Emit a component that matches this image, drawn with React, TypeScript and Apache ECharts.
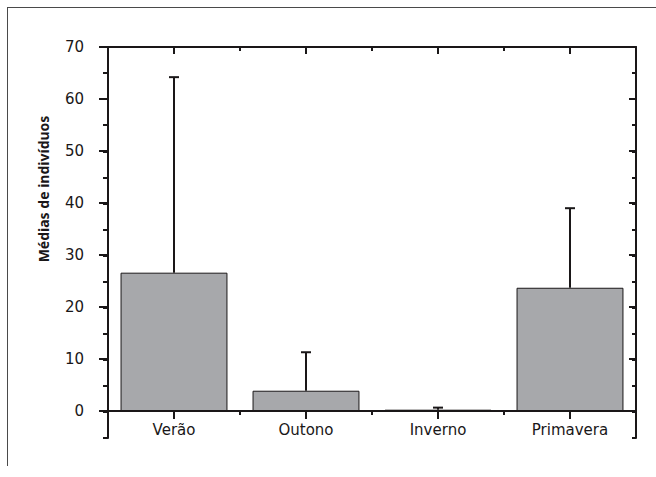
import React, { useEffect, useRef } from "react";
import * as echarts from "echarts";

const categories = ["Verão", "Outono", "Inverno", "Primavera"];
const means = [26.6, 3.9, 0.25, 23.7];
const errorTops = [64.2, 11.3, 0.65, 39.0];
const yAxisTitle = "Médias de indivíduos";

const INK = "#1a1718";
const FONT = '"Noto Sans", "DejaVu Sans", sans-serif';
const TICK_FONT = '"DejaVu Sans", sans-serif';

export default function App() {
  const ref = useRef<HTMLDivElement>(null);
  useEffect(() => {
    if (!ref.current) return;
    const chart = echarts.init(ref.current, null, { renderer: "svg" });
    const line = { lineStyle: { color: INK, width: 2 } };
    const gridFull = { left: 108, right: 20, top: 47, bottom: 39 };
    const gridZero = { left: 108, right: 20, top: 47, bottom: 66 };
    const errData = categories.map((_, i) => [i, means[i], errorTops[i]]);
    chart.setOption({
      animation: false,
      backgroundColor: "#ffffff",
      textStyle: { fontFamily: FONT },
      grid: [gridFull, gridZero, gridZero],
      xAxis: [
        {
          gridIndex: 0, type: "category", position: "top", data: categories,
          axisLine: { show: true, onZero: false, ...line },
          axisTick: { show: true, inside: true, length: 4, ...line },
          axisLabel: { show: false }, splitLine: { show: false },
        },
        {
          gridIndex: 1, type: "category", position: "bottom", data: categories,
          axisLine: { show: true, onZero: false, ...line },
          axisTick: { show: true, inside: false, length: 4, ...line },
          axisLabel: { show: false }, splitLine: { show: false },
        },
        {
          gridIndex: 1, type: "category", position: "top", data: categories,
          axisLine: { show: false, onZero: false },
          axisTick: { show: true, alignWithLabel: true, inside: true, length: 7, ...line },
          axisLabel: { show: false }, splitLine: { show: false },
        },
        {
          gridIndex: 2, type: "category", position: "bottom", data: categories,
          axisLine: { show: false, onZero: false },
          axisTick: { show: true, alignWithLabel: true, inside: false, length: 8, ...line },
          axisLabel: { show: true, fontSize: 15, color: INK, margin: 11, fontFamily: TICK_FONT },
          splitLine: { show: false },
        },
      ],
      yAxis: [
        {
          gridIndex: 0, type: "value", position: "left", min: -5, max: 70, interval: 5,
          axisLine: { show: true, onZero: false, ...line },
          axisTick: { show: true, inside: false, length: 5, ...line },
          axisLabel: { show: false }, splitLine: { show: false },
        },
        {
          gridIndex: 0, type: "value", position: "right", min: -5, max: 70, interval: 5,
          axisLine: { show: true, onZero: false, ...line },
          axisTick: { show: true, inside: true, length: 4, ...line },
          axisLabel: { show: false }, splitLine: { show: false },
        },
        {
          gridIndex: 1, type: "value", position: "left", min: 0, max: 70, interval: 10,
          axisLine: { show: false, onZero: false },
          axisTick: { show: true, inside: false, length: 9, ...line },
          axisLabel: { show: true, fontSize: 15, color: INK, margin: 24, fontFamily: TICK_FONT },
          splitLine: { show: false },
        },
        {
          gridIndex: 1, type: "value", position: "right", min: 0, max: 70, interval: 10,
          axisLine: { show: false, onZero: false },
          axisTick: { show: true, inside: true, length: 7, ...line },
          axisLabel: { show: false }, splitLine: { show: false },
        },
        {
          gridIndex: 2, type: "value", position: "left", min: 0, max: 70, interval: 10,
          show: false,
        },
      ],
      series: [
        {
          type: "bar",
          xAxisIndex: 1,
          yAxisIndex: 2,
          data: means,
          barWidth: "81%",
          itemStyle: { color: "#a7a8ab", borderColor: INK, borderWidth: 1 },
          z: 2,
        },
        {
          type: "custom",
          xAxisIndex: 1,
          yAxisIndex: 2,
          data: errData,
          z: 5,
          renderItem: (params: any, api: any) => {
            const base = api.coord([api.value(0), api.value(1)]);
            const top = api.coord([api.value(0), api.value(2)]);
            const style = { stroke: INK, lineWidth: 2 };
            return {
              type: "group",
              children: [
                { type: "line", shape: { x1: base[0], y1: base[1], x2: top[0], y2: top[1] }, style },
                { type: "line", shape: { x1: top[0] - 5, y1: top[1], x2: top[0] + 5, y2: top[1] }, style },
              ],
            };
          },
        },
      ],
      graphic: [
        { type: "line", shape: { x1: 7, y1: 7.5, x2: 656, y2: 7.5 }, style: { stroke: "#4a4a4a", lineWidth: 1 } },
        { type: "line", shape: { x1: 7.5, y1: 7, x2: 7.5, y2: 466 }, style: { stroke: "#4a4a4a", lineWidth: 1 } },
        {
          type: "text",
          x: 43,
          y: 189,
          rotation: Math.PI / 2,
          style: {
            text: yAxisTitle,
            font: `bold 14px ${FONT}`,
            fill: INK,
            textAlign: "center",
            textVerticalAlign: "middle",
          },
        },
      ],
    });
    return () => chart.dispose();
  }, []);
  return (
    <div
      ref={ref}
      style={{ position: "fixed", left: 0, top: 0, width: 656, height: 477 }}
    />
  );
}
